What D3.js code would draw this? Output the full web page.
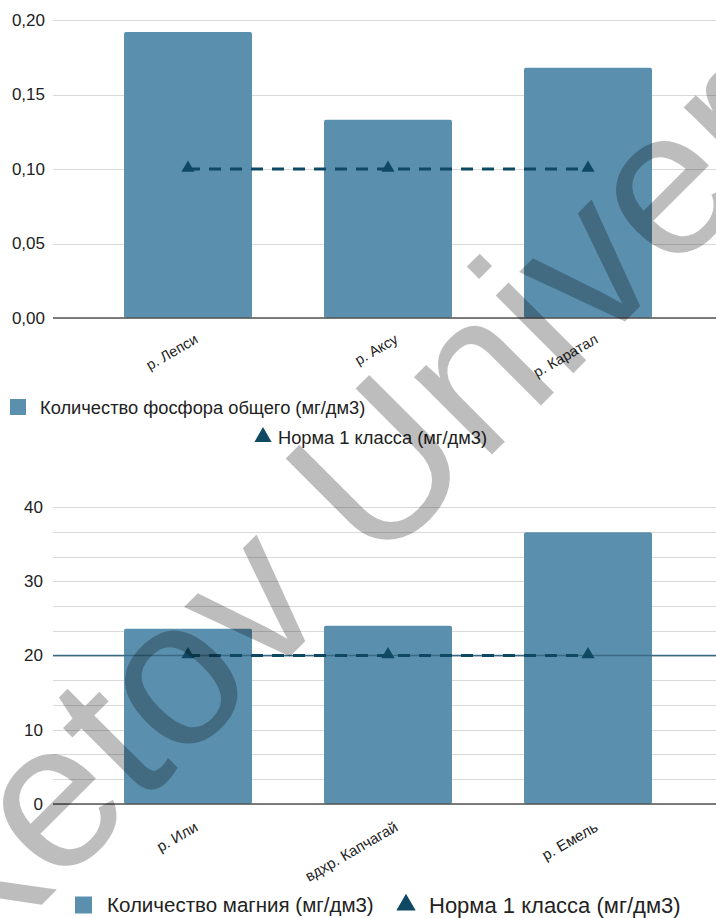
<!DOCTYPE html>
<html><head><meta charset="utf-8">
<script src="https://cdn.jsdelivr.net/npm/d3@7"></script>
<style>
html,body{margin:0;padding:0;background:#fff;}
svg{display:block;font-family:"Liberation Sans",Arial,sans-serif;}
</style></head>
<body>
<svg id="chart" width="716" height="918"></svg>
<script>
// ---- data ----
const topCategories = ["р. Лепси", "р. Аксу", "р. Каратал"];
const topValues = [0.192, 0.133, 0.168];
const topNorm = [0.10, 0.10, 0.10];
const topTicks = [0, 0.05, 0.10, 0.15, 0.20];
const topLegend = ["Количество фосфора общего (мг/дм3)", "Норма 1 класса (мг/дм3)"];

const botCategories = ["р. Или", "вдхр. Капчагай", "р. Емель"];
const botValues = [23.6, 24.0, 36.6];
const botNorm = [20, 20, 20];
const botTicks = [0, 10, 20, 30, 40];
const botLegend = ["Количество магния (мг/дм3)", "Норма 1 класса (мг/дм3)"];
const watermarkText = "Buketov University";

// ---- styles ----
const barColor = "#5a8fae";
const normColor = "#0e4863";
const gridColor = "#d9d9d9";
const textColor = "#222";

const svg = d3.select("#chart");
const W = 716;
const plotLeft = 53;
const fmt = v => d3.format(".2f")(v).replace(".", ",");

function drawChart(cfg) {
  const g = svg.append("g");
  const y = d3.scaleLinear().domain(cfg.domain).range([cfg.y0, cfg.y1]);
  const x = d3.scaleBand().domain(cfg.cats).range([88, 688]).paddingInner(0.36).paddingOuter(0.18);

  // grid
  g.append("g").selectAll("line").data(cfg.gridVals).join("line")
    .attr("x1", plotLeft).attr("x2", W)
    .attr("y1", d => Math.round(y(d)) + 0.5).attr("y2", d => Math.round(y(d)) + 0.5)
    .attr("stroke", gridColor).attr("stroke-width", 1);

  // y axis labels
  const yAxis = d3.axisLeft(y).tickValues(cfg.ticks).tickFormat(cfg.fmt).tickSize(0).tickPadding(0);
  const ya = g.append("g").attr("transform", `translate(${cfg.labelRight},0)`).call(yAxis);
  ya.select(".domain").remove();
  ya.selectAll("text").attr("font-size", 17).attr("fill", textColor).attr("font-family", "Liberation Sans, Arial, sans-serif");

  // bars
  g.append("g").selectAll("rect").data(cfg.values).join("rect")
    .attr("x", (d, i) => x(cfg.cats[i]))
    .attr("width", x.bandwidth())
    .attr("y", d => y(d))
    .attr("height", d => y(0) - y(d))
    .attr("rx", 2)
    .attr("fill", barColor);

  // baseline
  g.append("line").attr("x1", plotLeft).attr("x2", W)
    .attr("y1", y(0)).attr("y2", y(0)).attr("stroke", "#555").attr("stroke-width", 1.5);

  // solid norm line (bottom chart)
  if (cfg.solidNorm) {
    g.append("line").attr("x1", plotLeft).attr("x2", W)
      .attr("y1", y(cfg.norm[0])).attr("y2", y(cfg.norm[0]))
      .attr("stroke", "#3a6984").attr("stroke-width", 1.6);
  }

  // dashed norm line
  const line = d3.line().x((d, i) => x(cfg.cats[i]) + x.bandwidth() / 2).y(d => y(d));
  g.append("path").datum(cfg.norm).attr("d", line)
    .attr("fill", "none").attr("stroke", normColor).attr("stroke-width", 3)
    .attr("stroke-dasharray", "12,9");

  // markers
  const tri = d3.symbol().type(d3.symbolTriangle).size(75);
  g.append("g").selectAll("path").data(cfg.norm).join("path")
    .attr("d", tri)
    .attr("transform", (d, i) => `translate(${x(cfg.cats[i]) + x.bandwidth() / 2},${y(d) - 1})`)
    .attr("fill", normColor);

  // x labels
  const xa = d3.axisBottom(x).tickSize(0).tickPadding(0);
  const xg = g.append("g").attr("transform", `translate(0,${cfg.y0})`).call(xa);
  xg.select(".domain").remove();
  xg.selectAll("text")
    .attr("font-size", cfg.xFont).attr("fill", textColor)
    .attr("font-family", "Liberation Sans, Arial, sans-serif")
    .attr("text-anchor", "end").attr("dy", null).attr("y", 0)
    .attr("transform", `translate(11,${cfg.xLabelDy}) rotate(-30)`);
  return { x, y };
}

drawChart({
  cats: topCategories, values: topValues, norm: topNorm, ticks: topTicks,
  gridVals: topTicks, domain: [0, 0.2], y0: 318, y1: 20, fmt: fmt, labelRight: 45,
  solidNorm: false, xFont: 14.5, xLabelDy: 24
});

const minor = d3.range(0, 41, 10 / 3).map(v => +v.toFixed(4));
drawChart({
  cats: botCategories, values: botValues, norm: botNorm, ticks: botTicks,
  gridVals: minor, domain: [0, 40], y0: 804, y1: 507, fmt: d3.format("d"), labelRight: 43,
  solidNorm: true, xFont: 15, xLabelDy: 26
});

// legends
function legendItem(kind, x, yc, label, fs, size, textX) {
  if (kind === "rect") {
    svg.append("rect").attr("x", x - size / 2).attr("y", yc - size / 2).attr("width", size).attr("height", size).attr("fill", barColor);
  } else {
    const legTri = d3.symbol().type(d3.symbolTriangle).size(size * size * 0.5);
    svg.append("path").attr("d", legTri).attr("transform", `translate(${x},${yc})`).attr("fill", normColor);
  }
  svg.append("text").attr("x", textX).attr("y", yc + fs * 0.36).attr("font-size", fs)
    .attr("fill", textColor).text(label);
}
legendItem("rect", 18, 407, topLegend[0], 18.3, 16, 40);
legendItem("tri", 263, 437, topLegend[1], 18.3, 16, 278);
legendItem("rect", 83.5, 905, botLegend[0], 20.5, 17, 107);
legendItem("tri", 406, 905, botLegend[1], 22, 18, 429);

// watermark
const fsW = 208;
const wg = svg.append("g").attr("transform", "translate(182,688) rotate(-45)");
const wt = wg.append("text").attr("font-size", fsW).attr("fill", "#000").attr("fill-opacity", 0.26)
  .attr("font-family", "Liberation Sans, Arial, sans-serif").text(watermarkText);
const node = wt.node();
const off = node.getSubStringLength(0, 5) + node.getSubStringLength(5, 1) / 2;
wt.attr("x", -off).attr("y", fsW * 0.26);
</script>
</body></html>
